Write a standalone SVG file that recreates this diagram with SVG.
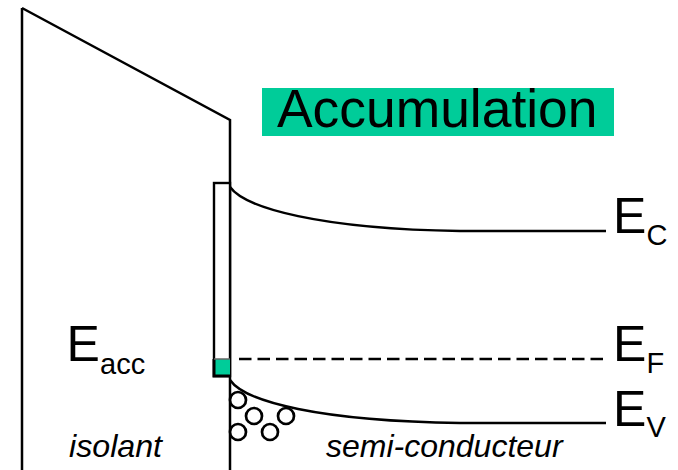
<svg xmlns="http://www.w3.org/2000/svg" width="678" height="470" viewBox="0 0 678 470">
<style>
.l{fill:none;stroke:#000;stroke-width:2.5}
.h{fill:#fff;stroke:#000;stroke-width:2.7}
text{font-family:"Liberation Sans",Arial,sans-serif;fill:#000}
.e{font-size:50px}
.s{font-size:29px}
.i{font-size:32px;font-style:italic}
</style>
<rect width="678" height="470" fill="#fff"/>
<g id="title"><rect x="262" y="88" width="352" height="48" fill="#00cc99"/><text x="277" y="127" font-size="53.4">Accumulation</text></g>
<g id="isolant"><path class="l" d="M22 8V470M22 8L230 120V470"/><text class="i" x="69" y="457" font-size="29" textLength="93" lengthAdjust="spacingAndGlyphs">isolant</text></g>
<g id="charge"><rect x="214" y="183" width="16" height="193" fill="#fff" stroke="#000" stroke-width="2.4"/><path d="M214 359H230V376H214Z" fill="#00cc99"/><path d="M214 359V376H230" fill="none" stroke="#000" stroke-width="3"/><path d="M214 359H230" stroke="#666" stroke-width="1.5"/></g>
<g id="connectors">
<path class="l" d="M230 187C245 208 320 229 460 231H606"/>
<path class="l" d="M239 359H604" stroke-width="3" stroke-dasharray="12.5 6"/>
<path class="l" d="M230 380C245 402 320 421 460 423H606"/>
</g>
<g id="holes">
<circle class="h" cx="238" cy="400" r="8"/><circle class="h" cx="254" cy="416" r="8"/><circle class="h" cx="286" cy="416" r="8"/><circle class="h" cx="238" cy="432" r="8"/><circle class="h" cx="270" cy="432" r="8"/>
</g>
<g id="labels">
<text class="e" x="66.5" y="361">E</text><text class="s" x="100" y="374">acc</text>
<text class="e" x="613" y="233">E</text><text class="s" x="646.5" y="245">C</text>
<text class="e" x="613" y="361">E</text><text class="s" x="646.5" y="373">F</text>
<text class="e" x="613" y="426">E</text><text class="s" x="646.5" y="437">V</text>
<text class="i" x="326" y="457">semi-conducteur</text>
</g>
</svg>
